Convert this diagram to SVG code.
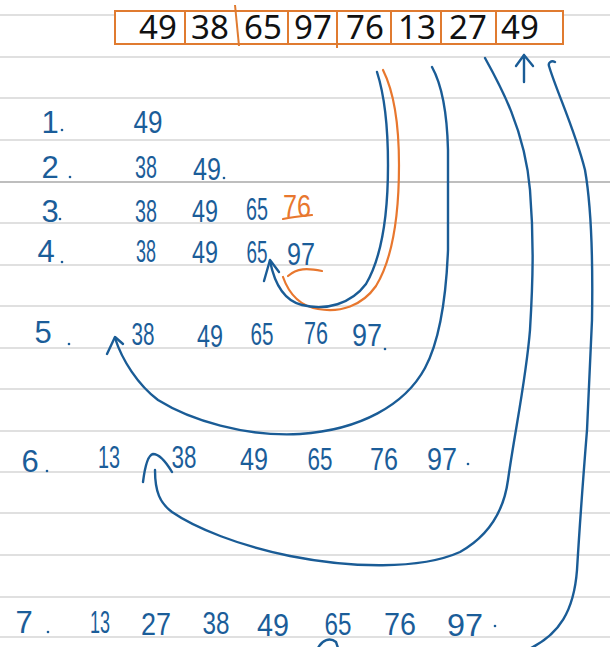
<svg xmlns="http://www.w3.org/2000/svg" width="610" height="647" viewBox="0 0 610 647">
<style>
.rule{stroke:#d6d6d6;stroke-width:1.6}
.rule2{stroke:#a9a9a9;stroke-width:1.6}
.box{fill:#fff;stroke:#e07b30;stroke-width:2}
.cell{stroke:#e07b30;stroke-width:2;fill:none}
.top{font-family:"Noto Sans","Liberation Sans",sans-serif;font-size:33px;fill:#111;text-anchor:middle}
.h{font-family:"Liberation Sans",Arial,sans-serif;font-size:31px;fill:#1b5d99;text-anchor:middle}
.o{fill:#e8772e}
.dot{fill:#1b5d99}
.c{fill:none;stroke:#1a5c96;stroke-width:2.4;stroke-linecap:round;stroke-linejoin:round}
.co{fill:none;stroke:#e8772e;stroke-width:2.2;stroke-linecap:round;stroke-linejoin:round}
</style>
<rect width="610" height="647" fill="#fff"/>
<g id="rules">
<line class="rule" x1="0" y1="15" x2="610" y2="15"/>
<line class="rule" x1="0" y1="57" x2="610" y2="57"/>
<line class="rule" x1="0" y1="98" x2="610" y2="98"/>
<line class="rule" x1="0" y1="140" x2="610" y2="140"/>
<line class="rule2" x1="0" y1="182" x2="610" y2="182"/>
<line class="rule" x1="0" y1="223" x2="610" y2="223"/>
<line class="rule" x1="0" y1="265" x2="610" y2="265"/>
<line class="rule" x1="0" y1="306" x2="610" y2="306"/>
<line class="rule" x1="0" y1="348" x2="610" y2="348"/>
<line class="rule" x1="0" y1="389" x2="610" y2="389"/>
<line class="rule" x1="0" y1="431" x2="610" y2="431"/>
<line class="rule" x1="0" y1="472" x2="610" y2="472"/>
<line class="rule" x1="0" y1="513" x2="610" y2="513"/>
<line class="rule" x1="0" y1="555" x2="610" y2="555"/>
<line class="rule" x1="0" y1="597" x2="610" y2="597"/>
<line class="rule" x1="0" y1="637" x2="610" y2="637"/>
</g>
<g id="array">
<rect class="box" x="115" y="11" width="448" height="33"/>
<line class="cell" x1="185" y1="11" x2="185" y2="44"/>
<line class="cell" x1="235" y1="5" x2="239" y2="46"/>
<line class="cell" x1="288" y1="11" x2="288" y2="44"/>
<line class="cell" x1="337" y1="11" x2="337" y2="48"/>
<line class="cell" x1="391" y1="11" x2="391" y2="44"/>
<line class="cell" x1="441" y1="11" x2="441" y2="44"/>
<line class="cell" x1="496" y1="11" x2="496" y2="44"/>
<text class="top" x="158" y="39">49</text>
<text class="top" x="210" y="39">38</text>
<text class="top" x="263" y="39">65</text>
<text class="top" x="313" y="39">97</text>
<text class="top" x="365" y="39">76</text>
<text class="top" x="417" y="39">13</text>
<text class="top" x="468" y="39">27</text>
<text class="top" x="520" y="39">49</text>
</g>
<g id="row1">
<text class="h" x="50" y="133">1</text><circle class="dot" cx="62" cy="130" r="1.3"/>
<text class="h" x="148" y="133" textLength="29" lengthAdjust="spacingAndGlyphs">49</text>
</g>
<g id="row2">
<text class="h" x="50" y="178">2</text><circle class="dot" cx="70" cy="177" r="1.3"/>
<text class="h" x="146" y="178" textLength="22" lengthAdjust="spacingAndGlyphs">38</text>
<text class="h" x="207" y="180" textLength="28" lengthAdjust="spacingAndGlyphs">49</text><circle class="dot" cx="224" cy="178" r="1.3"/>
</g>
<g id="row3">
<text class="h" x="50" y="222">3</text><circle class="dot" cx="60" cy="219" r="1.3"/>
<text class="h" x="146" y="222" textLength="22" lengthAdjust="spacingAndGlyphs">38</text>
<text class="h" x="205" y="222" textLength="26" lengthAdjust="spacingAndGlyphs">49</text>
<text class="h" x="257" y="220" textLength="22" lengthAdjust="spacingAndGlyphs">65</text>
<text class="h o" x="297" y="217" textLength="28" lengthAdjust="spacingAndGlyphs">76</text>
<path class="co" d="M283,219 C292,217 302,216 312,215"/>
</g>
<g id="row4">
<text class="h" x="46" y="262">4</text><circle class="dot" cx="62" cy="262" r="1.3"/>
<text class="h" x="146" y="262" textLength="20" lengthAdjust="spacingAndGlyphs">38</text>
<text class="h" x="205" y="263" textLength="26" lengthAdjust="spacingAndGlyphs">49</text>
<text class="h" x="257" y="263" textLength="21" lengthAdjust="spacingAndGlyphs">65</text>
<text class="h" x="301" y="265" textLength="28" lengthAdjust="spacingAndGlyphs">97</text>
</g>
<g id="row5">
<text class="h" x="43" y="343">5</text><circle class="dot" cx="69" cy="344" r="1.3"/>
<text class="h" x="143" y="345" textLength="23" lengthAdjust="spacingAndGlyphs">38</text>
<text class="h" x="210" y="347" textLength="26" lengthAdjust="spacingAndGlyphs">49</text>
<text class="h" x="262" y="345" textLength="23" lengthAdjust="spacingAndGlyphs">65</text>
<text class="h" x="316" y="344" textLength="24" lengthAdjust="spacingAndGlyphs">76</text>
<text class="h" x="367" y="346" textLength="30" lengthAdjust="spacingAndGlyphs">97</text><circle class="dot" cx="385" cy="349" r="1.3"/>
</g>
<g id="row6">
<text class="h" x="30" y="472">6</text><circle class="dot" cx="47" cy="471" r="1.3"/>
<text class="h" x="109" y="468" textLength="22" lengthAdjust="spacingAndGlyphs">13</text>
<text class="h" x="184" y="468" textLength="25" lengthAdjust="spacingAndGlyphs">38</text>
<text class="h" x="254" y="470" textLength="28" lengthAdjust="spacingAndGlyphs">49</text>
<text class="h" x="320" y="470" textLength="25" lengthAdjust="spacingAndGlyphs">65</text>
<text class="h" x="384" y="470" textLength="28" lengthAdjust="spacingAndGlyphs">76</text>
<text class="h" x="442" y="470" textLength="30" lengthAdjust="spacingAndGlyphs">97</text><circle class="dot" cx="468" cy="464" r="1.3"/>
</g>
<g id="row7">
<text class="h" x="24" y="633">7</text><circle class="dot" cx="48" cy="632" r="1.3"/>
<text class="h" x="100" y="633" textLength="20" lengthAdjust="spacingAndGlyphs">13</text>
<text class="h" x="156" y="635" textLength="30" lengthAdjust="spacingAndGlyphs">27</text>
<text class="h" x="216" y="634" textLength="27" lengthAdjust="spacingAndGlyphs">38</text>
<text class="h" x="273" y="636" textLength="32" lengthAdjust="spacingAndGlyphs">49</text>
<text class="h" x="338" y="635" textLength="27" lengthAdjust="spacingAndGlyphs">65</text>
<text class="h" x="400" y="635" textLength="32" lengthAdjust="spacingAndGlyphs">76</text>
<text class="h" x="465" y="636" textLength="36" lengthAdjust="spacingAndGlyphs">97</text><circle class="dot" cx="495" cy="626" r="1.3"/>
</g>
<g id="connectors">
<path class="co" d="M383,70 C394,92 399,125 399,165 C399,215 393,258 376,286 C362,306 340,313 318,309 C300,306 289,294 283,277"/>
<path class="co" d="M288,276 C297,268 307,268 322,271"/>
<path class="c" d="M377,72 C386,100 388,130 388,165 C388,212 383,255 366,284 C351,304 326,311 302,305 C285,301 275,286 270,261"/>
<path class="c" d="M264,281 L270,260 L279,272"/>
<path class="c" d="M432,67 C442,85 447,110 448,150 L448,250 C446,300 440,340 425,368 C405,405 360,430 300,434 C245,437 190,420 158,400 C138,385 122,360 115,338"/>
<path class="c" d="M107,354 L115,337 L123,344"/>
<path class="c" d="M485,58 C500,85 525,130 530,190 C534,240 533,280 530,330 C526,380 515,430 508,480 C504,510 490,535 460,552 C420,570 350,568 290,556 C240,546 195,528 172,512 C160,503 155,492 155,470"/>
<path class="c" d="M143,482 C145,466 148,455 153,454 C160,454 166,462 172,472"/>
<path class="c" d="M524,82 L524,55 M516,66 L524,55 L533,66"/>
<path class="c" d="M555,62 C551,60 548,63 549,66 C556,90 575,130 585,170 C592,210 593,260 592,320 L587,430 C583,480 580,520 577,570 C574,610 560,635 527,650"/>
<path class="c" d="M318,648 C322,640 330,637 336,642 L338,648"/>
</g>
</svg>
